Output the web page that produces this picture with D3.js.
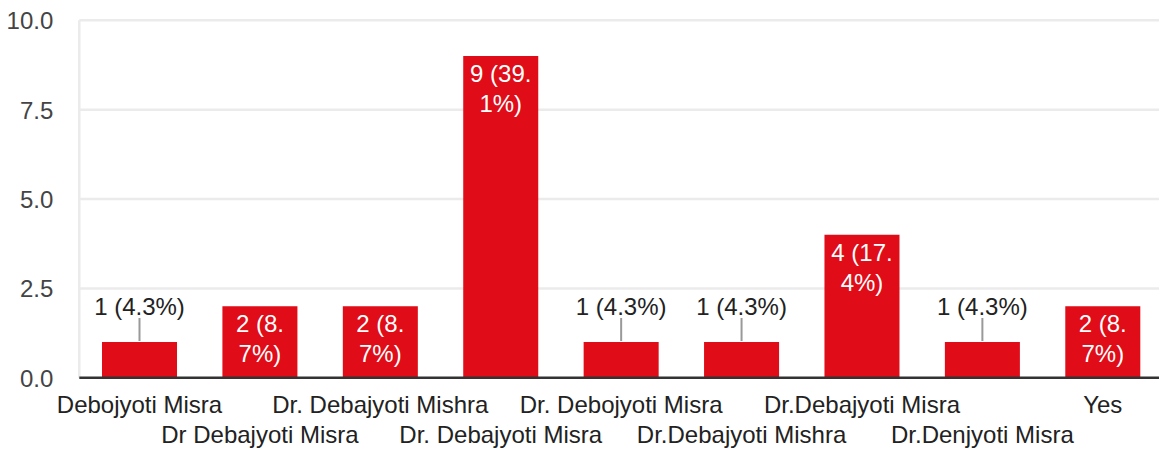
<!DOCTYPE html>
<html>
<head>
<meta charset="utf-8">
<script src="https://cdn.jsdelivr.net/npm/d3@7"></script>
<style>
  body { margin: 0; background: #fff; }
  text { font-family: "Liberation Sans", Arial, sans-serif; }
</style>
</head>
<body>
<svg id="chart" width="1159" height="453"></svg>
<script>
const categories = [
  'Debojyoti Misra', 'Dr Debajyoti Misra', 'Dr. Debajyoti Mishra',
  'Dr. Debajyoti Misra', 'Dr. Debojyoti Misra', 'Dr.Debajyoti Mishra',
  'Dr.Debajyoti Misra', 'Dr.Denjyoti Misra', 'Yes'
];
const counts = [1, 2, 2, 9, 1, 1, 4, 1, 2];
const yTicks = [0, 2.5, 5, 7.5, 10];

const total = d3.sum(counts);
const width = 1159, height = 453;
const margin = { top: 20.25, right: -4, bottom: 75.25, left: 79.3 };
const fontSize = 24;
const lineHeight = 30;
const barColor = '#e00c17';

const svg = d3.select('#chart');

const x = d3.scaleBand()
  .domain(categories)
  .range([margin.left, width - margin.right])
  .paddingInner(0.377)
  .paddingOuter(0.1885);

const y = d3.scaleLinear()
  .domain([0, 10])
  .range([height - margin.bottom, margin.top]);

// grid
svg.append('g')
  .selectAll('line')
  .data(yTicks.slice(1))
  .join('line')
  .attr('x1', margin.left)
  .attr('x2', width)
  .attr('y1', (d) => y(d))
  .attr('y2', (d) => y(d))
  .attr('stroke', '#ebebeb')
  .attr('stroke-width', 2.5);

svg.append('line')
  .attr('x1', margin.left).attr('x2', margin.left)
  .attr('y1', y(10)).attr('y2', y(0))
  .attr('stroke', '#ebebeb')
  .attr('stroke-width', 2.5);

// y axis labels
const yAxis = svg.append('g')
  .attr('transform', `translate(${margin.left - 26},0)`)
  .call(d3.axisLeft(y).tickValues(yTicks).tickFormat(d3.format('.1f')).tickSize(0).tickPadding(0));
yAxis.select('.domain').remove();
yAxis.selectAll('text')
  .attr('fill', '#444')
  .attr('font-size', fontSize)
  .attr('dy', '0.35em');

// bars
svg.append('g')
  .selectAll('rect')
  .data(counts)
  .join('rect')
  .attr('x', (d, i) => x(categories[i]))
  .attr('y', (d) => y(d))
  .attr('width', x.bandwidth())
  .attr('height', (d) => y(0) - y(d))
  .attr('fill', barColor);

// baseline
svg.append('line')
  .attr('x1', margin.left).attr('x2', width)
  .attr('y1', y(0)).attr('y2', y(0))
  .attr('stroke', '#333')
  .attr('stroke-width', 2.5);

// value labels
function label(d) {
  return `${d} (${d3.format('.1f')(d / total * 100)}%)`;
}

const measure = svg.append('text').attr('font-size', fontSize).attr('visibility', 'hidden');
function textWidth(s) {
  measure.text(s);
  return measure.node().getComputedTextLength();
}

function wrap(s, maxWidth) {
  const tokens = s.match(/[^ .]*[ .]?/g).filter((t) => t.length);
  const lines = [];
  let cur = '';
  tokens.forEach((t) => {
    if (cur && textWidth((cur + t).trim()) > maxWidth) {
      lines.push(cur.trim());
      cur = t;
    } else {
      cur += t;
    }
  });
  if (cur.trim()) lines.push(cur.trim());
  return lines;
}

const labels = svg.append('g');
counts.forEach((d, i) => {
  const cx = x(categories[i]) + x.bandwidth() / 2;
  const lines = wrap(label(d), x.bandwidth() - 4);
  const barH = y(0) - y(d);
  if (barH >= lines.length * lineHeight + 8) {
    const t = labels.append('text')
      .attr('text-anchor', 'middle')
      .attr('font-size', fontSize)
      .attr('fill', '#fff');
    lines.forEach((l, j) => {
      t.append('tspan')
        .attr('x', cx)
        .attr('y', y(d) + 26 + j * lineHeight)
        .text(l);
    });
  } else {
    labels.append('line')
      .attr('x1', cx).attr('x2', cx)
      .attr('y1', y(d) - 1).attr('y2', y(d) - 24)
      .attr('stroke', '#999')
      .attr('stroke-width', 2);
    labels.append('text')
      .attr('text-anchor', 'middle')
      .attr('font-size', fontSize)
      .attr('fill', '#222')
      .attr('x', cx)
      .attr('y', y(d) - 27)
      .text(label(d));
  }
});
measure.remove();

// category labels, staggered
svg.append('g')
  .selectAll('text')
  .data(categories)
  .join('text')
  .attr('text-anchor', 'middle')
  .attr('font-size', fontSize)
  .attr('fill', '#222')
  .attr('x', (d) => x(d) + x.bandwidth() / 2)
  .attr('y', (d, i) => (i % 2 === 0 ? 413 : 443))
  .text((d) => d);
</script>
</body>
</html>
